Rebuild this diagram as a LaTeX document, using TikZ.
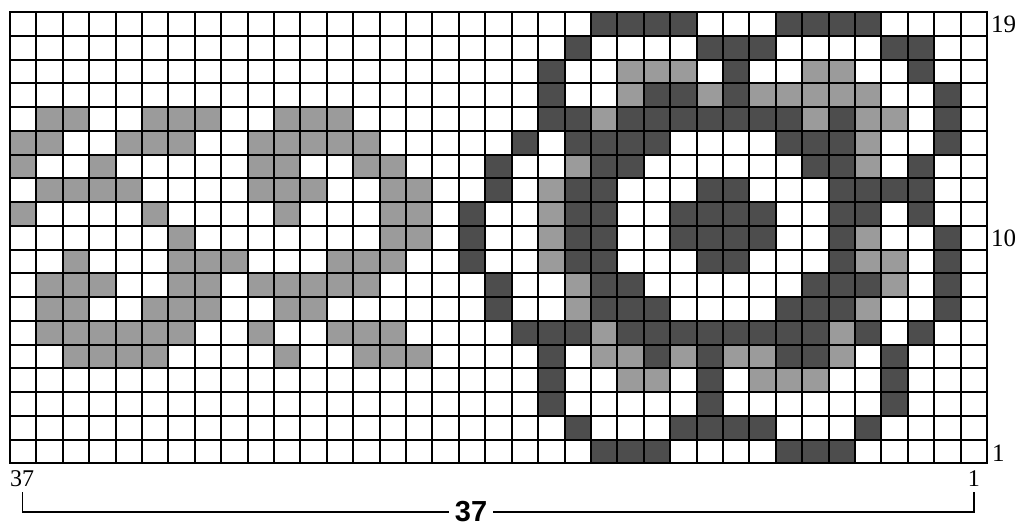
\documentclass[tikz,border=0pt]{standalone}
\usepackage{fontspec}
\setmainfont{Liberation Serif}
\newfontfamily\boldsans{Liberation Sans}
\definecolor{cgray}{HTML}{9B9B9B}
\definecolor{cdark}{HTML}{4D4D4D}
\begin{document}
\begin{tikzpicture}[x=1pt,y=-1pt,
  gl/.style={line width=2pt,black},
  lite/.style={fill=cgray},
  dk/.style={fill=cdark},
  rowlab/.style={anchor=west,inner sep=0pt,font=\fontsize{25}{25}\selectfont},
  collab/.style={anchor=north,inner sep=0pt,font=\fontsize{24}{24}\selectfont},
  totlab/.style={inner xsep=6pt,inner ysep=0pt,font=\boldsans\bfseries\fontsize{29}{29}\selectfont},
  brk/.style={line width=1.5pt,black}]
\useasboundingbox (0,0) rectangle (1019,528);
\fill[white] (0,0) rectangle (1019,528);
\begin{scope}[shift={(10,12)},x=26.4054pt,y=-23.75pt]
 \foreach \r/\cl in {
   2/{23,24,25,30,31},
   3/{23,26,28,29,30,31,32},
   4/{1,2,5,6,7,10,11,12,22,30,32,33},
   5/{0,1,4,5,6,9,10,11,12,13,32},
   6/{0,3,9,10,13,14,21,32},
   7/{1,2,3,4,9,10,11,14,15,20},
   8/{0,5,10,14,15,20},
   9/{6,14,15,20,32},
   10/{2,6,7,8,12,13,14,20,32,33},
   11/{1,2,3,6,7,9,10,11,12,13,21,33},
   12/{1,2,5,6,7,10,11,21,32},
   13/{1,2,3,4,5,6,9,12,13,14,22,31},
   14/{2,3,4,5,10,13,14,15,22,23,25,27,28,31},
   15/{23,24,28,29,30}}
   {\foreach \c in \cl {\fill[lite] (\c,\r) rectangle ++(1,1);}}
 \foreach \r/\cl in {
   0/{22,23,24,25,29,30,31,32},
   1/{21,26,27,28,33,34},
   2/{20,27,34},
   3/{20,24,25,27,35},
   4/{20,21,23,24,25,26,27,28,29,31,35},
   5/{19,21,22,23,24,29,30,31,35},
   6/{18,22,23,30,31,34},
   7/{18,21,22,26,27,31,32,33,34},
   8/{17,21,22,25,26,27,28,31,32,34},
   9/{17,21,22,25,26,27,28,31,35},
   10/{17,21,22,26,27,31,35},
   11/{18,22,23,30,31,32,35},
   12/{18,22,23,24,29,30,31,35},
   13/{19,20,21,23,24,25,26,27,28,29,30,32,34},
   14/{20,24,26,29,30,33},
   15/{20,26,33},
   16/{20,26,33},
   17/{21,25,26,27,28,32},
   18/{22,23,24,29,30,31}}
   {\foreach \c in \cl {\fill[dk] (\c,\r) rectangle ++(1,1);}}
 \foreach \i in {0,...,37} \draw[gl] (\i,0) -- (\i,19);
 \foreach \j in {0,...,19} \draw[gl] (0,\j) -- (37,\j);
 \draw[line width=2.4pt] (0,0) rectangle (37,19);
 \node[rowlab] (r19) at ([xshift=4pt]37,0.5) {19};
 \node[rowlab] (r10) at ([xshift=4pt,yshift=-1pt]37,9.5) {10};
 \node[rowlab] (r1) at ([xshift=5pt,yshift=-2pt]37,18.5) {1};
 \node[collab] (c37) at ([xshift=-1pt,yshift=-7pt]0.5,19) {37};
 \node[collab] (c1) at ([yshift=-7pt]36.5,19) {1};
\end{scope}
\node[totlab] (total) at (471,512) {37};
\coordinate (tl) at (22.5,492);
\coordinate (tr) at (974,492);
\draw[brk] (tl) |- (total.west);
\draw[brk] (total.east) -| (tr);
\end{tikzpicture}
\end{document}
